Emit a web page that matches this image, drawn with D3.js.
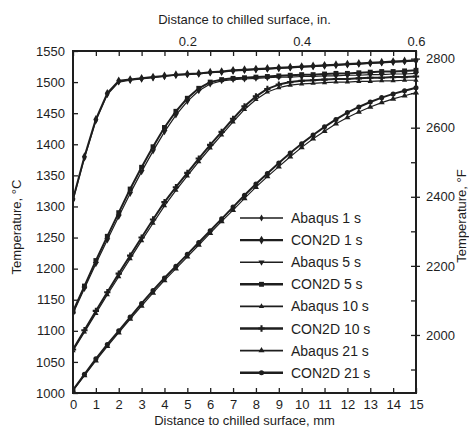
<!DOCTYPE html>
<html>
<head>
<meta charset="utf-8">
<script src="https://cdn.jsdelivr.net/npm/d3@7"></script>
<style>
  html, body { margin: 0; padding: 0; background: #fff; }
  svg { display: block; font-family: "Liberation Sans", Arial, sans-serif; }
  text { fill: #1e1e1e; }
</style>
</head>
<body>
<svg id="chart" width="469" height="435"></svg>
<script>
// ---------- data ----------
const distMM = [0,0.5,1,1.5,2,2.5,3,3.5,4,4.5,5,5.5,6,6.5,7,7.5,8,8.5,9,9.5,10,10.5,11,11.5,12,12.5,13,13.5,14,14.5,15];

const abaqus1  = [1310,1378,1438,1480,1500,1503,1505,1507,1509,1511,1512,1513,1515,1516,1518,1519,1520,1521,1522,1523,1524,1525,1526,1527,1528,1529,1530,1531,1532,1533,1534];
const con2d1   = [1312,1380,1440,1482,1502,1504,1506,1508,1510,1512,1513,1514,1516,1517,1519,1520,1521,1522,1523,1524,1525,1526,1527,1528,1529,1530,1531,1532,1533,1534,1535];
const abaqus5  = [1128,1168,1208,1246,1284,1321,1356,1389,1420,1447,1469,1486,1497,1502,1504,1505,1506,1507,1508,1508,1509,1509,1510,1510,1511,1511,1512,1512,1513,1513,1514];
const con2d5   = [1131,1172,1213,1252,1290,1328,1363,1396,1427,1453,1474,1490,1500,1504,1506,1507,1508,1509,1510,1511,1512,1512,1513,1514,1514,1515,1516,1517,1517,1518,1519];
const abaqus10 = [1068,1098,1128,1158,1187,1216,1245,1273,1301,1326,1349,1372,1394,1415,1436,1456,1472,1484,1491,1495,1497,1498,1499,1500,1500,1501,1501,1502,1502,1503,1503];
const con2d10  = [1070,1101,1132,1162,1192,1221,1250,1279,1307,1331,1354,1377,1399,1420,1441,1461,1477,1489,1496,1500,1502,1503,1504,1505,1505,1506,1507,1507,1508,1508,1509];
const abaqus21 = [1004,1028,1052,1075,1097,1119,1140,1161,1181,1200,1219,1238,1257,1276,1294,1313,1331,1348,1364,1380,1395,1409,1421,1433,1443,1452,1460,1467,1473,1478,1483];
const con2d21  = [1005,1030,1055,1078,1100,1122,1144,1165,1185,1204,1223,1242,1261,1280,1299,1318,1336,1353,1370,1386,1401,1415,1428,1440,1451,1460,1468,1475,1481,1486,1491];

const seriesNames = ["Abaqus 1 s","CON2D 1 s","Abaqus 5 s","CON2D 5 s","Abaqus 10 s","CON2D 10 s","Abaqus 21 s","CON2D 21 s"];
const seriesValues = [abaqus1, con2d1, abaqus5, con2d5, abaqus10, con2d10, abaqus21, con2d21];

const mmTicks = [0,1,2,3,4,5,6,7,8,9,10,11,12,13,14,15];
const inchTicks = [0.2, 0.4, 0.6];
const celsiusTicks = [1000,1050,1100,1150,1200,1250,1300,1350,1400,1450,1500,1550];
const fahrLabelTicks = [2000,2200,2400,2600,2800];
const fahrMinorTicks = [1900,2000,2100,2200,2300,2400,2500,2600,2700,2800];

// ---------- layout ----------
const svg = d3.select("#chart");
const L = 73, R = 416, T = 51, B = 393;
const ink = "#1e1e1e";

const x = d3.scaleLinear().domain([0, 15]).range([L, R]);
const xIn = d3.scaleLinear().domain([0, 0.6]).range([L, R]);
const y = d3.scaleLinear().domain([1000, 1550]).range([B, T]);
const cToF = c => c * 9 / 5 + 32;
const yF = d3.scaleLinear().domain([cToF(1000), cToF(1550)]).range([B, T]);

svg.append("rect").attr("width", 469).attr("height", 435).attr("fill", "#fff");

function styleAxis(g, showText) {
  g.select(".domain").remove();
  g.selectAll(".tick line").attr("stroke", ink).attr("stroke-width", 1.3);
  g.selectAll(".tick text").attr("font-size", 13).style("fill", ink);
  if (!showText) g.selectAll(".tick text").remove();
}

// bottom axis (mm)
svg.append("g").attr("transform", `translate(0,${B})`)
  .call(d3.axisBottom(x).tickValues(mmTicks).tickFormat(d3.format("d")).tickSize(-5).tickPadding(7))
  .call(g => styleAxis(g, true));

// top axis: mm minor ticks (inward) + inch labels
svg.append("g").attr("transform", `translate(0,${T})`)
  .call(d3.axisTop(x).tickValues(mmTicks).tickSize(-5))
  .call(g => styleAxis(g, false));
svg.append("g").attr("transform", `translate(0,${T})`)
  .call(d3.axisTop(xIn).tickValues(inchTicks).tickFormat(d3.format(".1f")).tickSize(0).tickPadding(5))
  .call(g => styleAxis(g, true));

// left axis (°C)
svg.append("g").attr("transform", `translate(${L},0)`)
  .call(d3.axisLeft(y).tickValues(celsiusTicks).tickFormat(d3.format("d")).tickSize(-5).tickPadding(8))
  .call(g => styleAxis(g, true));

// right axis (°F)
svg.append("g").attr("transform", `translate(${R},0)`)
  .call(d3.axisRight(yF).tickValues(fahrMinorTicks).tickSize(-5))
  .call(g => styleAxis(g, false));
svg.append("g").attr("transform", `translate(${R},0)`)
  .call(d3.axisRight(yF).tickValues(fahrLabelTicks).tickFormat(d3.format("d")).tickSize(4).tickPadding(6))
  .call(g => styleAxis(g, true));

// axis titles
svg.append("text").attr("x", (L + R) / 2).attr("y", 24).attr("text-anchor", "middle")
  .attr("font-size", 13).text("Distance to chilled surface, in.");
svg.append("text").attr("x", (L + R) / 2).attr("y", 425).attr("text-anchor", "middle")
  .attr("font-size", 13).text("Distance to chilled surface, mm");
svg.append("text").attr("transform", `translate(21,227) rotate(-90)`).attr("text-anchor", "middle")
  .attr("font-size", 13).text("Temperature, °C");
svg.append("text").attr("transform", `translate(465.5,216) rotate(-90)`).attr("text-anchor", "middle")
  .attr("font-size", 13).text("Temperature, °F");

// series styles
const styles = [
  { w: 1.2, sym: d3.symbolDiamond, size: 14, rot: 0 },
  { w: 2.0, sym: d3.symbolDiamond, size: 22, rot: 0 },
  { w: 1.2, sym: d3.symbolTriangle, size: 16, rot: 180 },
  { w: 2.0, sym: d3.symbolSquare, size: 24, rot: 0 },
  { w: 1.2, sym: d3.symbolTriangle, size: 12, rot: 0 },
  { w: 2.0, sym: d3.symbolCross, size: 22, rot: 0 },
  { w: 1.2, sym: d3.symbolTriangle, size: 16, rot: 0 },
  { w: 2.0, sym: d3.symbolCircle, size: 20, rot: 0 }
];

svg.append("clipPath").attr("id", "plotclip")
  .append("rect").attr("x", L).attr("y", T - 4).attr("width", R - L + 4).attr("height", B - T + 4);

const plot = svg.append("g").attr("clip-path", "url(#plotclip)");
const line = d3.line().x((d, i) => x(distMM[i])).y(d => y(d));

seriesValues.forEach((vals, k) => {
  const st = styles[k];
  const g = plot.append("g");
  g.append("path").datum(vals).attr("d", line)
    .attr("fill", "none").attr("stroke", ink).attr("stroke-width", st.w).attr("stroke-linejoin", "round");
  g.selectAll("path.m").data(vals).join("path").attr("class", "m")
    .attr("d", d3.symbol().type(st.sym).size(st.size))
    .attr("transform", (d, i) => `translate(${x(distMM[i])},${y(d)}) rotate(${st.rot})`)
    .attr("fill", ink);
});

// frame
svg.append("rect").attr("x", L).attr("y", T).attr("width", R - L).attr("height", B - T)
  .attr("fill", "none").attr("stroke", ink).attr("stroke-width", 2);

// legend
const legend = svg.append("g");
seriesNames.forEach((name, k) => {
  const st = styles[k];
  const ly = 218 + k * 22.1;
  legend.append("line").attr("x1", 240).attr("x2", 283).attr("y1", ly).attr("y2", ly)
    .attr("stroke", ink).attr("stroke-width", st.w + 0.4);
  legend.append("path").attr("d", d3.symbol().type(st.sym).size(st.size))
    .attr("transform", `translate(261.5,${ly}) rotate(${st.rot})`).attr("fill", ink);
  legend.append("text").attr("x", 291).attr("y", ly).attr("dy", "0.36em")
    .attr("font-size", 14).text(name);
});
</script>
</body>
</html>
